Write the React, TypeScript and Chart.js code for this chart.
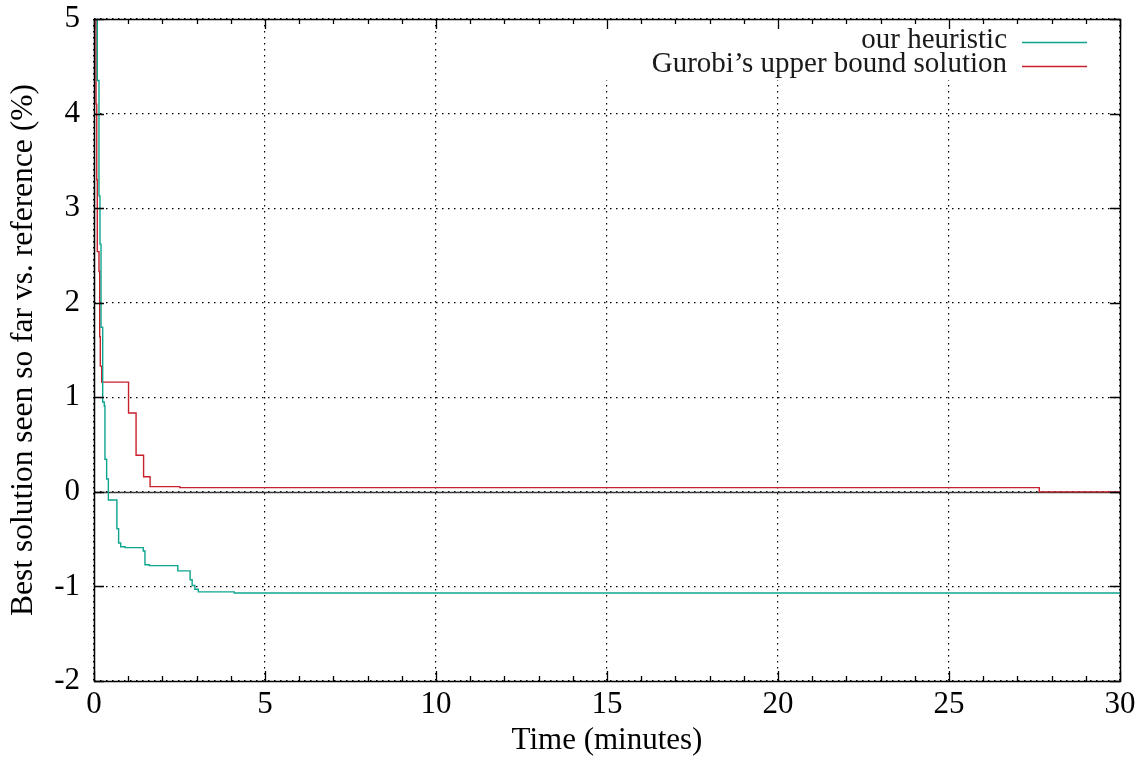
import { useEffect, useRef } from "react";
import { Chart, registerables } from "chart.js";

Chart.register(...registerables);

// Step-wise best-so-far gap (%) against the reference solution, over time (minutes).
const heuristicMinutes = [0.0, 0.096, 0.146, 0.175, 0.205, 0.254, 0.3, 0.32, 0.37, 0.42, 0.67, 0.72, 0.78, 0.91, 1.44, 1.49, 1.62, 2.45, 2.81, 2.87, 2.95, 3.05, 4.1, 30];
const heuristicGap = [8, 4.35, 3.13, 2.62, 1.74, 0.95, 0.91, 0.345, 0.136, -0.086, -0.39, -0.54, -0.58, -0.59, -0.625, -0.77, -0.78, -0.836, -0.93, -0.99, -1.03, -1.058, -1.07, -1.07];

const gurobiMinutes = [0.0, 0.06, 0.08, 0.096, 0.146, 0.167, 0.184, 0.225, 1.01, 1.23, 1.45, 1.64, 2.51, 27.64, 30];
const gurobiGap = [8, 4.1, 3.3, 2.54, 2.33, 1.64, 1.33, 1.16, 0.834, 0.387, 0.16, 0.055, 0.045, 0.0, 0.0];

const seriesLabels = ["our heuristic", "Gurobi\u2019s upper bound solution"];
const seriesColors = ["#0ea58e", "#c8202c"];

const xMajorTicks = [0, 5, 10, 15, 20, 25, 30];
const yMajorTicks = [-2, -1, 0, 1, 2, 3, 4, 5];

const FONT = "'Liberation Serif', 'Times New Roman', serif";

const toPoints = (xs: number[], ys: number[]) => xs.map((x, i) => ({ x, y: ys[i] }));

// Zero axis under the data.
const zeroAxisPlugin = {
  id: "zeroAxis",
  beforeDatasetsDraw(chart: any) {
    const { ctx, chartArea, scales } = chart;
    const y = Math.round(scales.y.getPixelForValue(0)) + 0.5;
    ctx.save();
    ctx.strokeStyle = "#3a3a3a";
    ctx.lineWidth = 1.4;
    ctx.beginPath();
    ctx.moveTo(chartArea.left, y);
    ctx.lineTo(chartArea.right, y);
    ctx.stroke();
    ctx.restore();
  },
};

// Opaque key in the top-right corner, frame and inward tick marks.
const framePlugin = {
  id: "frameAndKey",
  afterDatasetsDraw(chart: any) {
    const { ctx, chartArea, scales } = chart;
    const { left, right, top, bottom } = chartArea;
    ctx.save();

    // key
    ctx.fillStyle = "#fff";
    ctx.fillRect(right - 530, top + 1, 529, 60);
    ctx.font = `29px ${FONT}`;
    ctx.textAlign = "right";
    ctx.textBaseline = "alphabetic";
    chart.data.datasets.forEach((ds: any, i: number) => {
      const rowY = top + 22.5 + i * 24.3;
      ctx.fillStyle = "#1a1a1a";
      ctx.fillText(ds.label, right - 113, rowY + 6.5);
      ctx.strokeStyle = ds.borderColor;
      ctx.lineWidth = 1.4;
      ctx.beginPath();
      ctx.moveTo(right - 98, Math.round(rowY) + 0.5);
      ctx.lineTo(right - 33, Math.round(rowY) + 0.5);
      ctx.stroke();
    });

    // ticks
    ctx.strokeStyle = "#000";
    ctx.lineWidth = 1.3;
    ctx.beginPath();
    for (let m = 0; m <= 30; m++) {
      const x = Math.round(scales.x.getPixelForValue(m)) + 0.5;
      const len = xMajorTicks.includes(m) ? 10 : 5;
      ctx.moveTo(x, bottom);
      ctx.lineTo(x, bottom - len);
      ctx.moveTo(x, top);
      ctx.lineTo(x, top + len);
    }
    yMajorTicks.forEach((v) => {
      const y = Math.round(scales.y.getPixelForValue(v)) + 0.5;
      ctx.moveTo(left, y);
      ctx.lineTo(left + 10, y);
      ctx.moveTo(right, y);
      ctx.lineTo(right - 10, y);
    });
    ctx.stroke();

    // frame
    ctx.lineWidth = 1.5;
    ctx.strokeRect(Math.round(left) + 0.5, Math.round(top) + 0.5, Math.round(right - left), Math.round(bottom - top));
    ctx.restore();
  },
};

export default function App() {
  const canvasRef = useRef<HTMLCanvasElement | null>(null);

  useEffect(() => {
    const canvas = canvasRef.current;
    if (!canvas) return;
    Chart.defaults.font.family = FONT;
    Chart.defaults.font.size = 30;
    Chart.defaults.color = "#000";

    const chart = new Chart(canvas, {
      type: "line",
      data: {
        datasets: [
          {
            label: seriesLabels[0],
            data: toPoints(heuristicMinutes, heuristicGap),
            borderColor: seriesColors[0],
            backgroundColor: seriesColors[0],
            borderWidth: 1.4,
            pointRadius: 0,
            stepped: "before",
            fill: false,
          },
          {
            label: seriesLabels[1],
            data: toPoints(gurobiMinutes, gurobiGap),
            borderColor: seriesColors[1],
            backgroundColor: seriesColors[1],
            borderWidth: 1.4,
            pointRadius: 0,
            stepped: "before",
            fill: false,
          },
        ],
      },
      options: {
        responsive: false,
        animation: false,
        events: [],
        layout: { padding: { top: 19, right: 25, left: 0, bottom: 0 } },
        plugins: {
          legend: { display: false },
          tooltip: { enabled: false },
        },
        scales: {
          x: {
            type: "linear",
            min: 0,
            max: 30,
            afterBuildTicks: (s: any) => {
              s.ticks = xMajorTicks.map((v) => ({ value: v }));
            },
            ticks: { padding: 5, maxRotation: 0, autoSkip: false, color: "#000", font: { size: 31 } },
            grid: { color: "#000", lineWidth: 1.2, drawTicks: false },
            border: { display: false, dash: [1.5, 4.5] },
            title: {
              display: true,
              text: "Time (minutes)",
              color: "#000",
              font: { size: 31, lineHeight: 1.2 },
              padding: { top: 0, bottom: 0 },
            },
            afterFit: (s: any) => {
              s.height = 78;
              s.paddingLeft = 0;
              s.paddingRight = 0;
            },
          },
          y: {
            type: "linear",
            min: -2,
            max: 5,
            afterBuildTicks: (s: any) => {
              s.ticks = yMajorTicks.map((v) => ({ value: v }));
            },
            ticks: { padding: 14, color: "#000", font: { size: 31 } },
            grid: { color: "#000", lineWidth: 1.2, drawTicks: false },
            border: { display: false, dash: [1.5, 4.5] },
            title: {
              display: true,
              text: "Best solution seen so far vs. reference (%)",
              color: "#000",
              font: { size: 31.5, lineHeight: 1.2 },
              padding: { top: 5, bottom: 0 },
            },
            afterFit: (s: any) => {
              s.width = 94;
              s.paddingTop = 0;
              s.paddingBottom = 0;
            },
          },
        },
      },
      plugins: [zeroAxisPlugin, framePlugin],
    } as any);

    return () => chart.destroy();
  }, []);

  return (
    <div style={{ position: "fixed", left: 0, top: 0, width: 1145, height: 759, background: "#fff" }}>
      <canvas ref={canvasRef} width={1145} height={759} style={{ display: "block" }} />
    </div>
  );
}
